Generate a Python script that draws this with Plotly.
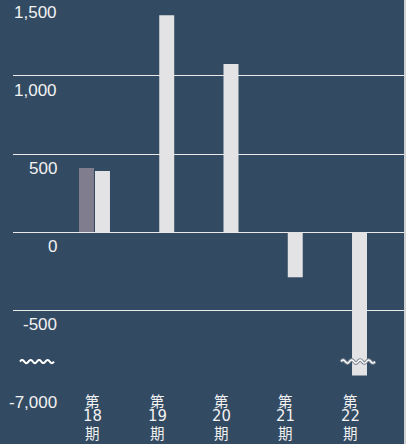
import numpy as np
import plotly.graph_objects as go

# ---- data -------------------------------------------------------------
periods = ["第18期", "第19期", "第20期", "第21期", "第22期"]
period_nums = ["18", "19", "20", "21", "22"]
current_values = [391, 1390, 1077, -290, -6920]
previous_period = ["第18期"]
previous_values = [410]

tick_values = [1500, 1000, 500, 0, -500, -7000]

# ---- axis break: everything below the break is drawn 6,000 higher ------
BREAK_SHIFT = 6000
BREAK_LEVEL = -830          # where the wavy break marks sit (axis units)


def to_axis(v):
    return v + BREAK_SHIFT if v < -1000 else v


# ---- geometry / style ---------------------------------------------------
W, H = 406, 444
ML, MR, MT, MB = 13, 2, 0, 55
PW, PH = W - ML - MR, H - MT - MB
Y_RANGE = [-1006, 1487]
X_RANGE = [-1.268, 4.817]
BAR_W = 0.233

BG = "#334b62"
LIGHT = "#e3e3e5"
GREY = "#807e8e"
TEXT = "#f2f2f2"


def px_to_paper_x(px):
    return (px - ML) / PW


def px_to_paper_y(py):
    return (MT + PH - py) / PH


def val_to_px_y(v):
    return MT + PH * (Y_RANGE[1] - v) / (Y_RANGE[1] - Y_RANGE[0])


def idx_to_px_x(i):
    return ML + PW * (i - X_RANGE[0]) / (X_RANGE[1] - X_RANGE[0])


fig = go.Figure()

fig.add_trace(go.Bar(
    x=previous_period, y=previous_values,
    width=BAR_W, offset=-0.241,
    marker=dict(color=GREY, line=dict(width=0)),
    name="前期",
))
fig.add_trace(go.Bar(
    x=periods, y=[to_axis(v) for v in current_values],
    customdata=current_values,
    hovertemplate="%{x}: %{customdata:,}<extra></extra>",
    width=BAR_W, offset=0.008,
    marker=dict(color=LIGHT, line=dict(width=0)),
    name="当期",
))

annotations = []

# y-axis labels, sitting just under their grid lines
for v in tick_values:
    annotations.append(dict(
        xref="paper", yref="paper",
        x=px_to_paper_x(57), y=px_to_paper_y(val_to_px_y(to_axis(v)) + 14.5),
        text=f"{v:,}", showarrow=False, xanchor="right", yanchor="middle",
        borderpad=0, borderwidth=0,
        font=dict(family="Liberation Sans, Arial, sans-serif", size=17, color=TEXT),
    ))

# stacked period labels: 第 / number / 期
for p, n in zip(periods, period_nums):
    for text, py, fam, size in [
        ("第", 400, "Noto Sans CJK JP", 14.5),
        (n, 416, "Liberation Sans Narrow, DejaVu Sans Condensed, sans-serif", 16.5),
        ("期", 432.5, "Noto Sans CJK JP", 14.5),
    ]:
        annotations.append(dict(
            xref="x", yref="paper", x=p, y=px_to_paper_y(py),
            xshift=-1.5, text=text, showarrow=False,
            xanchor="center", yanchor="middle",
            borderpad=0, borderwidth=0,
            font=dict(family=fam, size=size, color=TEXT),
        ))


def wave_path(x0, x1, yc, amp=1.6, period=8.5, steps=60):
    xs = np.linspace(x0, x1, steps)
    ys = yc - amp * np.sin(2 * np.pi * (xs - x0) / period)
    pts = [f"{px_to_paper_x(x):.5f},{px_to_paper_y(y):.5f}" for x, y in zip(xs, ys)]
    return "M " + " L ".join(pts)


yb = val_to_px_y(BREAK_LEVEL)
shapes = []
# break mark on the axis
shapes.append(dict(type="path", xref="paper", yref="paper",
                   path=wave_path(20, 54, yb), line=dict(color="#ffffff", width=2)))
# break mark across the broken bar
bar_left = idx_to_px_x(4 + 0.008)
bar_right = bar_left + BAR_W * PW / (X_RANGE[1] - X_RANGE[0])
wp = wave_path(bar_left - 11, bar_right + 8, yb)
shapes.append(dict(type="path", xref="paper", yref="paper",
                   path=wp, line=dict(color="#7d8894", width=3.4)))
shapes.append(dict(type="path", xref="paper", yref="paper",
                   path=wp, line=dict(color="#ffffff", width=1.4)))
# right-hand frame edge
shapes.append(dict(type="rect", xref="paper", yref="paper",
                   x0=1, x1=1 + MR / PW, y0=-MB / PH, y1=1 + MT / PH,
                   fillcolor="#d2d2d2", line=dict(width=0)))

fig.update_layout(
    width=W, height=H,
    margin=dict(l=ML, r=MR, t=MT, b=MB, pad=0),
    paper_bgcolor=BG, plot_bgcolor=BG,
    barmode="overlay", showlegend=False,
    annotations=annotations, shapes=shapes,
    xaxis=dict(type="category", range=X_RANGE, showgrid=False, showline=False,
               zeroline=False, showticklabels=False, ticks="", fixedrange=True),
    yaxis=dict(range=Y_RANGE, tickvals=[1000, 500, 0, -500, -1000],
               showticklabels=False, ticks="", showline=False, zeroline=False,
               showgrid=True, gridcolor="#e9e9e9", gridwidth=1, fixedrange=True),
)

fig.write_html("out.html")
